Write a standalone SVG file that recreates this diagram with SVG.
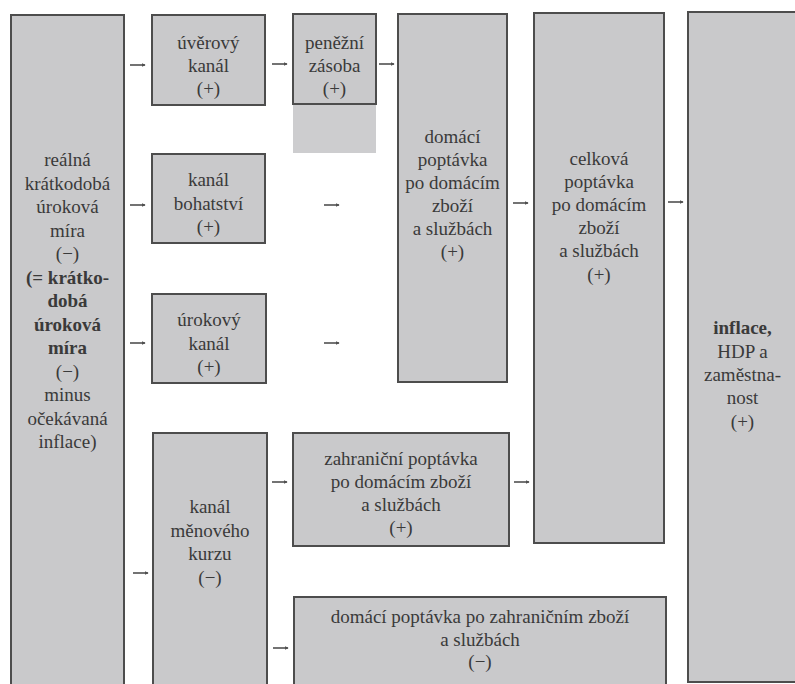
<svg xmlns="http://www.w3.org/2000/svg" width="795" height="684" viewBox="0 0 795 684">
<defs>
<style>
.box{fill:#c9c9cb;stroke:#4d4d4d;stroke-width:2}
.ext{fill:#cdcdcf}
text{font-family:"Liberation Serif","Times New Roman",serif;font-size:19px;fill:#3a3a3a;text-anchor:middle}
.b{font-weight:bold}
.arr{stroke:#505050;stroke-width:1.6;fill:none;marker-end:url(#ah)}
</style>
<marker id="ah" viewBox="0 0 6 6" refX="5" refY="3" markerWidth="4" markerHeight="4" orient="auto" markerUnits="userSpaceOnUse">
<path d="M0,0 L6,3 L0,6 z" fill="#505050"/>
</marker>
</defs>
<rect width="795" height="684" fill="#ffffff"/>

<g id="n-realna">
<rect class="box" x="11" y="15" width="113" height="680"/>
<text x="67.5" y="166">reálná</text>
<text x="67.5" y="189.5">krátkodobá</text>
<text x="67.5" y="213">úroková</text>
<text x="67.5" y="236.5">míra</text>
<text x="67.5" y="260">(−)</text>
<text x="67.5" y="283.5" class="b">(= krátko-</text>
<text x="67.5" y="307" class="b">dobá</text>
<text x="67.5" y="330.5" class="b">úroková</text>
<text x="67.5" y="354" class="b">míra</text>
<text x="67.5" y="377.5">(−)</text>
<text x="67.5" y="401">minus</text>
<text x="67.5" y="424.5">očekávaná</text>
<text x="67.5" y="448">inflace)</text>
</g>

<g id="n-uverovy">
<rect class="box" x="152" y="15" width="113" height="90"/>
<text x="208.5" y="49">úvěrový</text>
<text x="208.5" y="72">kanál</text>
<text x="208.5" y="95">(+)</text>
</g>

<g id="n-penezni">
<rect class="ext" x="293" y="104" width="83" height="49"/>
<rect class="box" x="293" y="14" width="83" height="90"/>
<text x="334.5" y="49">peněžní</text>
<text x="334.5" y="72">zásoba</text>
<text x="334.5" y="95">(+)</text>
</g>

<g id="n-bohatstvi">
<rect class="box" x="152" y="154" width="113" height="89"/>
<text x="208.5" y="186">kanál</text>
<text x="208.5" y="209.5">bohatství</text>
<text x="208.5" y="233">(+)</text>
</g>

<g id="n-urokovy">
<rect class="box" x="152" y="294" width="114" height="89"/>
<text x="209" y="326">úrokový</text>
<text x="209" y="349.5">kanál</text>
<text x="209" y="373">(+)</text>
</g>

<g id="n-menovy">
<rect class="box" x="153" y="433" width="114" height="262"/>
<text x="210" y="513">kanál</text>
<text x="210" y="536.5">měnového</text>
<text x="210" y="560">kurzu</text>
<text x="210" y="583.5">(−)</text>
</g>

<g id="n-domaci">
<rect class="box" x="398" y="14" width="109" height="368"/>
<text x="452.5" y="143">domácí</text>
<text x="452.5" y="166">poptávka</text>
<text x="452.5" y="189">po domácím</text>
<text x="452.5" y="212">zboží</text>
<text x="452.5" y="235">a službách</text>
<text x="452.5" y="258">(+)</text>
</g>

<g id="n-celkova">
<rect class="box" x="534" y="13" width="130" height="530"/>
<text x="599" y="165">celková</text>
<text x="599" y="188">poptávka</text>
<text x="599" y="211">po domácím</text>
<text x="599" y="234">zboží</text>
<text x="599" y="257">a službách</text>
<text x="599" y="281">(+)</text>
</g>

<g id="n-inflace">
<rect class="box" x="688" y="12" width="120" height="670"/>
<text x="742.5" y="334" class="b">inflace,</text>
<text x="742.5" y="357.5">HDP a</text>
<text x="742.5" y="381">zaměstna-</text>
<text x="742.5" y="404">nost</text>
<text x="742.5" y="428">(+)</text>
</g>

<g id="n-zahranicni">
<rect class="box" x="293" y="433" width="216" height="113"/>
<text x="401" y="465">zahraniční poptávka</text>
<text x="401" y="488">po domácím zboží</text>
<text x="401" y="511">a službách</text>
<text x="401" y="534">(+)</text>
</g>

<g id="n-domaci-zahr">
<rect class="box" x="294" y="597" width="372" height="100"/>
<text x="480" y="623">domácí poptávka po zahraničním zboží</text>
<text x="480" y="646">a službách</text>
<text x="480" y="668">(−)</text>
</g>

<g id="connectors">
<line class="arr" x1="130" y1="65" x2="145" y2="65"/>
<line class="arr" x1="130" y1="205" x2="145" y2="205"/>
<line class="arr" x1="130" y1="343" x2="145" y2="343"/>
<line class="arr" x1="133" y1="573" x2="148" y2="573"/>
<line class="arr" x1="272" y1="64" x2="287" y2="64"/>
<line class="arr" x1="379" y1="64" x2="394" y2="64"/>
<line class="arr" x1="324" y1="205" x2="339" y2="205"/>
<line class="arr" x1="324" y1="343" x2="339" y2="343"/>
<line class="arr" x1="272" y1="482" x2="287" y2="482"/>
<line class="arr" x1="273" y1="648" x2="288" y2="648"/>
<line class="arr" x1="513" y1="203" x2="528" y2="203"/>
<line class="arr" x1="668" y1="202" x2="683" y2="202"/>
<line class="arr" x1="514" y1="482" x2="529" y2="482"/>
</g>
</svg>
